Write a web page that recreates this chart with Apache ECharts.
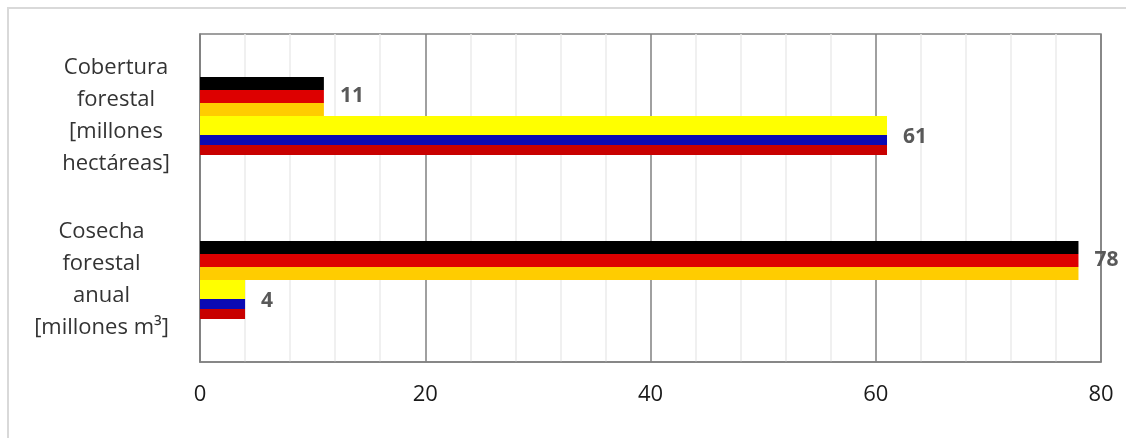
<!DOCTYPE html>
<html>
<head>
<meta charset="utf-8">
<script src="https://cdn.jsdelivr.net/npm/echarts@6/dist/echarts.min.js"></script>
<style>
  html, body { margin: 0; padding: 0; background: #ffffff; }
  #chart { width: 1126px; height: 438px; }
</style>
</head>
<body>
<div id="chart"></div>
<script>
// Categories (top to bottom)
const categories = ['Cobertura\nforestal\n[millones\nhectáreas]', 'Cosecha\nforestal\nanual\n[millones m³]'];
// Values per country
const germany = [11, 78];
const colombia = [61, 4];
// Axis ticks
const xMin = 0, xMax = 80, xStep = 20;

const FONT = '"Open Sans", "Noto Sans", sans-serif';

// Each flag is drawn as a run of stripe bars sharing the country's value
const germanyStripes = [
  { color: '#000000', width: 13 },
  { color: '#dd0000', width: 13, label: true },
  { color: '#ffcc00', width: 13 }
];
const colombiaStripes = [
  { color: '#ffff00', width: 19 },
  { color: '#0a0ab4', width: 10, label: true },
  { color: '#c80000', width: 10 }
];

function stripeSeries(stripes, values, name) {
  return stripes.map(s => ({
    name: name,
    type: 'bar',
    data: values,
    barWidth: s.width,
    barGap: '0%',
    itemStyle: { color: s.color },
    silent: true,
    label: s.label ? {
      show: true,
      position: 'right',
      distance: 16,
      offset: name === 'Colombia' ? [0, -3] : [0, 0],
      fontFamily: FONT,
      fontSize: 21,
      fontWeight: 'bold',
      color: '#595959'
    } : { show: false }
  }));
}

const chart = echarts.init(document.getElementById('chart'));
chart.setOption({
  animation: false,
  backgroundColor: '#ffffff',
  graphic: [{
    type: 'rect',
    shape: { x: 8, y: 8, width: 1300, height: 600 },
    style: { fill: 'none', stroke: '#d9d9d9', lineWidth: 2 },
    silent: true
  }],
  grid: {
    left: 200, right: 25, top: 34, bottom: 76,
    show: true, borderColor: '#808080', borderWidth: 1.5,
    containLabel: false
  },
  xAxis: {
    type: 'value',
    min: xMin, max: xMax, interval: xStep,
    axisLine: { show: true, lineStyle: { color: '#808080', width: 1.5 } },
    axisTick: { show: false },
    axisLabel: { margin: 22, fontFamily: FONT, fontSize: 22, color: '#1a1a1a' },
    splitLine: { show: true, lineStyle: { color: '#808080', width: 1.5 } },
    minorTick: { show: false, splitNumber: 5 },
    minorSplitLine: { show: true, lineStyle: { color: '#ebebeb', width: 1.5 } }
  },
  yAxis: {
    type: 'category',
    inverse: true,
    data: categories,
    axisLine: { show: true, lineStyle: { color: '#808080', width: 1.5 } },
    axisTick: { show: false },
    axisLabel: {
      margin: 26,
      align: 'right',
      fontFamily: FONT,
      fontSize: 22,
      color: '#333333',
      lineHeight: 32,
      formatter: (v, i) => v.split('\n').map(l => '{c' + i + '|' + l + '}').join('\n'),
      rich: {
        c0: { width: 116, align: 'center', fontFamily: FONT, fontSize: 22, lineHeight: 32, color: '#333333' },
        c1: { width: 145, align: 'center', fontFamily: FONT, fontSize: 22, lineHeight: 32, color: '#333333' }
      }
    }
  },
  series: [
    ...stripeSeries(germanyStripes, germany, 'Alemania'),
    ...stripeSeries(colombiaStripes, colombia, 'Colombia')
  ]
});
</script>
</body>
</html>
